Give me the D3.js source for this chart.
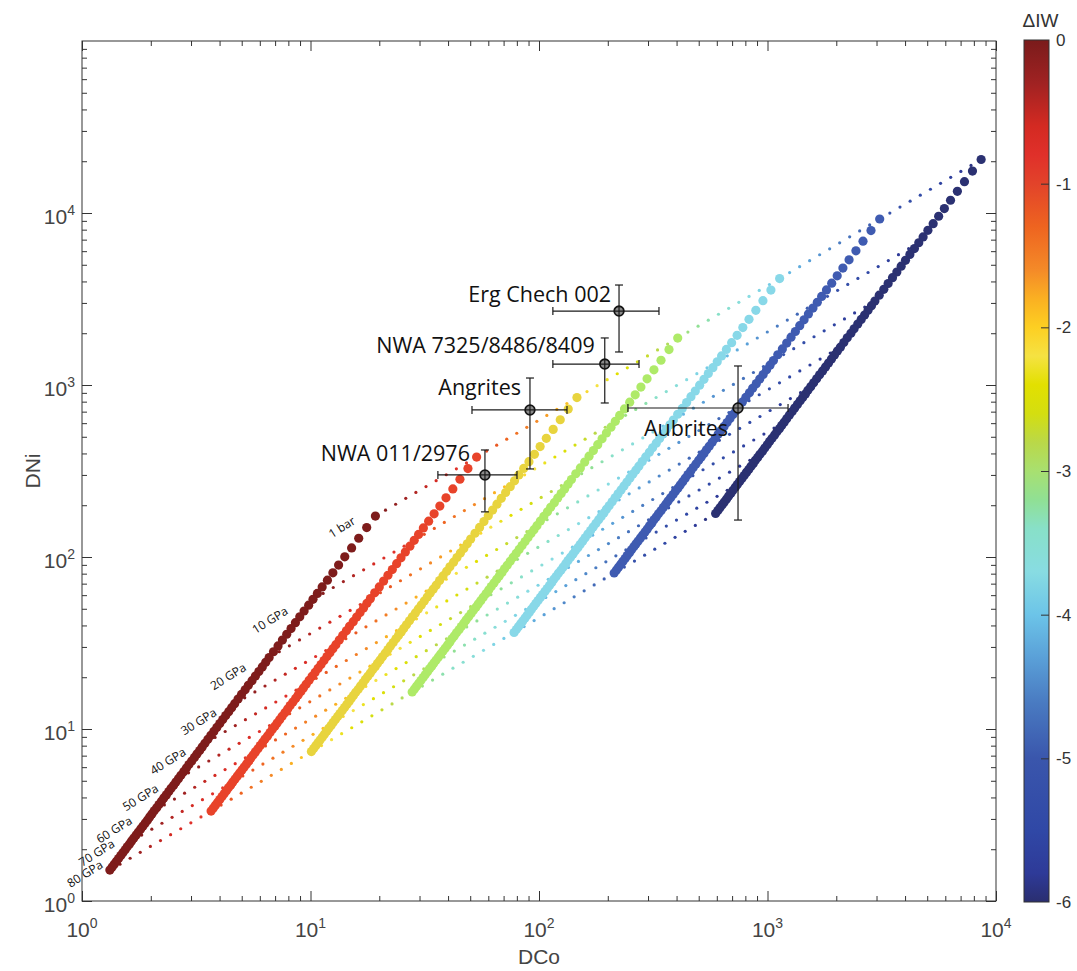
<!DOCTYPE html>
<html>
<head>
<meta charset="utf-8">
<script src="https://cdn.jsdelivr.net/npm/d3@7"></script>
<style>
  body { margin: 0; background: #fff; }
  svg { display: block; }
</style>
</head>
<body>
<svg id="chart"></svg>
<script>
// pressure grid of the model runs (GPa), 0 = 1 bar
const pressureGPa = [0,1,2,3,4,5,6,7,8,9,10,11,12,13,14,15,16,17,18,19,20,21,22,23,24,25,26,27,28,29,30,
  31,32,33,34,35,36,37,38,39,40,41,42,43,44,45,46,47,48,49,50,51,52,53,54,55,56,57,58,59,60,
  61,62,63,64,65,66,67,68,69,70,71,72,73,74,75,76,77,78,79,80];

// log10 DCo / DNi along the dIW = 0 track
const logDCoIW0 = [1.284,1.246,1.211,1.180,1.150,1.123,1.098,1.074,1.051,1.030,1.011,
  0.992,0.972,0.953,0.934,0.915,0.896,0.877,0.858,0.838,0.819,
  0.804,0.789,0.774,0.759,0.744,0.728,0.714,0.698,0.683,0.668,
  0.655,0.642,0.629,0.616,0.603,0.590,0.577,0.564,0.551,0.538,
  0.526,0.515,0.503,0.492,0.480,0.468,0.457,0.445,0.433,0.422,
  0.411,0.401,0.390,0.380,0.369,0.358,0.348,0.337,0.327,0.316,
  0.306,0.296,0.287,0.277,0.267,0.257,0.247,0.237,0.227,0.217,
  0.208,0.198,0.189,0.179,0.170,0.160,0.151,0.141,0.132,0.122];
const logDNiIW0 = [2.238,2.171,2.109,2.053,2.001,1.953,1.908,1.865,1.826,1.788,1.754,
  1.720,1.686,1.652,1.618,1.584,1.551,1.517,1.483,1.449,1.415,
  1.388,1.361,1.334,1.308,1.281,1.254,1.228,1.201,1.174,1.147,
  1.124,1.101,1.078,1.055,1.032,1.009,0.986,0.963,0.940,0.917,
  0.896,0.875,0.855,0.835,0.814,0.793,0.773,0.752,0.731,0.711,
  0.692,0.673,0.655,0.636,0.617,0.599,0.580,0.561,0.542,0.524,
  0.506,0.489,0.471,0.454,0.436,0.419,0.401,0.384,0.366,0.349,
  0.332,0.315,0.298,0.281,0.264,0.247,0.231,0.214,0.197,0.180];

// oxygen fugacity levels and how far each track sits from the dIW = 0 one (decades)
const iwLevels = [0, -1, -2, -3, -4, -5, -6];
const levelShiftCo = [0, 0.443, 0.882, 1.323, 1.769, 2.207, 2.651];
const levelShiftNi = [0, 0.343, 0.689, 1.035, 1.381, 1.727, 2.073];
const levelColors = ['#7e1c1b', '#e8432a', '#e8d43e', '#aeea68', '#88d8e8', '#3f5bb1', '#2b3172'];

// isobars drawn with small dots every 0.1 log unit of dIW
const isobarPressures = [0, 10, 20, 30, 40, 50, 60, 70, 80];
const isobarLabels = ['1 bar', '10 GPa', '20 GPa', '30 GPa', '40 GPa', '50 GPa', '60 GPa', '70 GPa', '80 GPa'];
const iwStep = 0.1;

// colour map of the dIW bar
const cmapStops = [0, -0.3, -0.6, -0.8, -1, -1.3, -1.6, -1.8, -2, -2.2, -2.4, -2.6, -2.8, -3, -3.2, -3.4, -3.7, -4, -4.3, -4.6, -5, -5.5, -5.8, -6];
const cmapColors = ['#7a1b1b', '#a02222', '#d42a22', '#e0302a', '#e2432a', '#ee6420', '#f48a28', '#fab022', '#fdcf22',
  '#f5e242', '#e2e000', '#d4de10', '#bad848', '#a8e070', '#90e094', '#88e0c8', '#88dce2', '#6cc4e8', '#5aa0d8',
  '#4a7cc2', '#3a56ac', '#3048a6', '#2e3a98', '#2a2e70'];
const cbarTicks = [0, -1, -2, -3, -4, -5, -6];

// meteorite estimates with error bars
const meteorNames = ['Erg Chech 002', 'NWA 7325/8486/8409', 'Angrites', 'NWA 011/2976', 'Aubrites'];
const meteorDCo   = [224, 194, 91.3, 58.0, 743];
const meteorDCoLo = [115, 115, 50.9, 36.1, 245];
const meteorDCoHi = [335, 274, 132.6, 80.1, 1230];
const meteorDNi   = [2692, 1324, 716, 300, 735];
const meteorDNiLo = [1556, 786, 325, 183, 164];
const meteorDNiHi = [3813, 1877, 1098, 419, 1290];

const xTicks = [1, 10, 100, 1000, 10000];
const yTicks = [1, 10, 100, 1000, 10000];

const width = 1077, height = 971;
const plot = {left: 82, right: 996, top: 41, bottom: 901};

const svg = d3.select('#chart')
  .attr('width', width)
  .attr('height', height)
  .style('font-family', '"Liberation Sans", Arial, sans-serif');

const x = d3.scaleLog().domain([1, 1e4]).range([plot.left, plot.right]);
const y = d3.scaleLog().domain([1, 1e5]).range([plot.bottom, plot.top]);
const cmap = d3.scaleLinear().domain(cmapStops).range(cmapColors).interpolate(d3.interpolateRgb);

function shiftAt(arr, iw) {
  const k = -iw;
  const i0 = Math.min(Math.floor(k + 1e-9), arr.length - 2);
  const f = k - i0;
  return arr[i0] + f * (arr[i0 + 1] - arr[i0]);
}

// small isobar dots
const isoDots = [];
isobarPressures.forEach(p => {
  const pi = pressureGPa.indexOf(p);
  d3.range(0, 61).forEach(j => {
    const iw = -j * iwStep;
    isoDots.push({
      co: Math.pow(10, logDCoIW0[pi] + shiftAt(levelShiftCo, iw)),
      ni: Math.pow(10, logDNiIW0[pi] + shiftAt(levelShiftNi, iw)),
      iw: iw
    });
  });
});

const gData = svg.append('g');
gData.selectAll('circle.iso')
  .data(isoDots)
  .enter().append('circle')
  .attr('class', 'iso')
  .attr('cx', d => x(d.co))
  .attr('cy', d => y(d.ni))
  .attr('r', 1.6)
  .style('fill', d => cmap(d.iw));

// big dots along each dIW track
iwLevels.forEach((iw, li) => {
  const pts = pressureGPa.map((p, i) => ({
    co: Math.pow(10, logDCoIW0[i] + levelShiftCo[li]),
    ni: Math.pow(10, logDNiIW0[i] + levelShiftNi[li])
  }));
  gData.append('g').selectAll('circle')
    .data(pts)
    .enter().append('circle')
    .attr('cx', d => x(d.co))
    .attr('cy', d => y(d.ni))
    .attr('r', 4.6)
    .style('fill', levelColors[li]);
});

// pressure labels next to the dIW = 0 track (end of text relative to its point)
const pLabelNudge = [[-19, 7], [-24, 14], [-22, 12], [-17, 11], [-18, 11], [-19, 12], [-21, 12], [-16, 5], [-6, -3]];
isobarPressures.forEach((p, i) => {
  const pi = pressureGPa.indexOf(p);
  const px = x(Math.pow(10, logDCoIW0[pi])) + pLabelNudge[i][0];
  const py = y(Math.pow(10, logDNiIW0[pi])) + pLabelNudge[i][1];
  svg.append('text')
    .attr('transform', 'translate(' + px + ',' + py + ') rotate(-32)')
    .style('text-anchor', 'end')
    .style('font-family', '"Open Sans", "Noto Sans", sans-serif')
    .style('font-size', '12px')
    .style('fill', '#111')
    .text(isobarLabels[i]);
});

// axes box and ticks
const minorVals = [];
[1, 10, 100, 1000].forEach(d => [2,3,4,5,6,7,8,9].forEach(m => minorVals.push(d * m)));
const minorValsY = minorVals.concat([2,3,4,5,6,7,8,9].map(m => m * 10000));

const axisColor = '#333';
function styleAxis(g) {
  g.select('.domain').remove();
  g.selectAll('line').style('stroke', axisColor).style('stroke-width', 1);
}
svg.append('g').attr('transform', 'translate(0,' + plot.bottom + ')')
  .call(d3.axisBottom(x).tickValues(xTicks).tickSize(-10).tickFormat('')).call(styleAxis);
svg.append('g').attr('transform', 'translate(0,' + plot.bottom + ')')
  .call(d3.axisBottom(x).tickValues(minorVals).tickSize(-5).tickFormat('')).call(styleAxis);
svg.append('g').attr('transform', 'translate(0,' + plot.top + ')')
  .call(d3.axisTop(x).tickValues(xTicks).tickSize(-10).tickFormat('')).call(styleAxis);
svg.append('g').attr('transform', 'translate(0,' + plot.top + ')')
  .call(d3.axisTop(x).tickValues(minorVals).tickSize(-5).tickFormat('')).call(styleAxis);
svg.append('g').attr('transform', 'translate(' + plot.left + ',0)')
  .call(d3.axisLeft(y).tickValues(yTicks).tickSize(-10).tickFormat('')).call(styleAxis);
svg.append('g').attr('transform', 'translate(' + plot.left + ',0)')
  .call(d3.axisLeft(y).tickValues(minorValsY).tickSize(-5).tickFormat('')).call(styleAxis);
svg.append('g').attr('transform', 'translate(' + plot.right + ',0)')
  .call(d3.axisRight(y).tickValues(yTicks).tickSize(-10).tickFormat('')).call(styleAxis);
svg.append('g').attr('transform', 'translate(' + plot.right + ',0)')
  .call(d3.axisRight(y).tickValues(minorValsY).tickSize(-5).tickFormat('')).call(styleAxis);

svg.append('rect')
  .attr('x', plot.left).attr('y', plot.top)
  .attr('width', plot.right - plot.left).attr('height', plot.bottom - plot.top)
  .style('fill', 'none').style('stroke', axisColor).style('stroke-width', 1);

// tick labels 10^n
const labelColor = '#444';
xTicks.forEach(v => {
  const t = svg.append('text')
    .attr('x', x(v)).attr('y', plot.bottom + 36)
    .style('text-anchor', 'middle').style('font-size', '21px').style('fill', labelColor);
  t.append('tspan').text('10');
  t.append('tspan').attr('dy', -9).style('font-size', '14px').text(Math.round(Math.log10(v)));
});
yTicks.forEach(v => {
  const t = svg.append('text')
    .attr('x', plot.left - 7).attr('y', y(v) + 11)
    .style('text-anchor', 'end').style('font-size', '21px').style('fill', labelColor);
  t.append('tspan').text('10');
  t.append('tspan').attr('dy', -9).style('font-size', '14px').text(Math.round(Math.log10(v)));
});

svg.append('text')
  .attr('x', (plot.left + plot.right) / 2).attr('y', 964)
  .style('text-anchor', 'middle').style('font-size', '21px').style('fill', labelColor)
  .text('DCo');
svg.append('text')
  .attr('transform', 'translate(40,' + ((plot.top + plot.bottom) / 2) + ') rotate(-90)')
  .style('text-anchor', 'middle').style('font-size', '21px').style('fill', labelColor)
  .text('DNi');

// meteorite points with error bars
const gMet = svg.append('g');
const cap = 4;
meteorNames.forEach((name, i) => {
  const cx = x(meteorDCo[i]), cy = y(meteorDNi[i]);
  const segs = [
    [x(meteorDCoLo[i]), cy, x(meteorDCoHi[i]), cy],
    [x(meteorDCoLo[i]), cy - cap, x(meteorDCoLo[i]), cy + cap],
    [x(meteorDCoHi[i]), cy - cap, x(meteorDCoHi[i]), cy + cap],
    [cx, y(meteorDNiLo[i]), cx, y(meteorDNiHi[i])],
    [cx - cap, y(meteorDNiLo[i]), cx + cap, y(meteorDNiLo[i])],
    [cx - cap, y(meteorDNiHi[i]), cx + cap, y(meteorDNiHi[i])]
  ];
  gMet.append('circle')
    .attr('cx', cx).attr('cy', cy).attr('r', 4.8)
    .style('fill', '#8a8a8a').style('stroke', '#111').style('stroke-width', 1.8);
  gMet.selectAll(null).data(segs).enter().append('line')
    .attr('x1', d => d[0]).attr('y1', d => d[1])
    .attr('x2', d => d[2]).attr('y2', d => d[3])
    .style('stroke', '#1a1a1a').style('stroke-width', 1.2);
});

const labelOffsets = [[-8, -9], [-10, -11], [-9, -15], [-15, -14], [-10, 28]];
meteorNames.forEach((name, i) => {
  svg.append('text')
    .attr('x', x(meteorDCo[i]) + labelOffsets[i][0])
    .attr('y', y(meteorDNi[i]) + labelOffsets[i][1])
    .style('text-anchor', 'end')
    .style('font-family', '"Open Sans", "Noto Sans", sans-serif')
    .style('font-size', '21.5px')
    .style('fill', '#111')
    .text(name);
});

// colour bar
const cb = {x: 1024, w: 25, top: 40, bottom: 902};
const cbScale = d3.scaleLinear().domain([0, -6]).range([cb.top, cb.bottom]);
const grad = svg.append('defs').append('linearGradient')
  .attr('id', 'cbgrad').attr('x1', 0).attr('y1', 0).attr('x2', 0).attr('y2', 1);
grad.selectAll('stop').data(cmapStops).enter().append('stop')
  .attr('offset', d => (-d / 6))
  .attr('stop-color', (d, i) => cmapColors[i]);
svg.append('rect')
  .attr('x', cb.x).attr('y', cb.top).attr('width', cb.w).attr('height', cb.bottom - cb.top)
  .style('fill', 'url(#cbgrad)').style('stroke', '#333').style('stroke-width', 1);
const cbAxis = svg.append('g').attr('transform', 'translate(' + (cb.x + cb.w) + ',0)')
  .call(d3.axisLeft(cbScale).tickValues(cbarTicks).tickSize(8).tickFormat(''));
cbAxis.select('.domain').remove();
cbAxis.selectAll('line').style('stroke', '#333');
cbAxis.selectAll('.tick').filter(d => d === 0 || d === -6).remove();
svg.selectAll('text.cbl').data(cbarTicks).enter().append('text')
  .attr('class', 'cbl')
  .attr('x', cb.x + cb.w + 7).attr('y', d => cbScale(d) + 6)
  .style('font-size', '17px').style('fill', '#333')
  .text(d => d === 0 ? '0' : '-' + Math.abs(d));
svg.append('text')
  .attr('x', cb.x + cb.w / 2 + 4).attr('y', 27)
  .style('text-anchor', 'middle').style('font-size', '19px').style('fill', '#333')
  .text('ΔIW');
</script>
</body>
</html>
